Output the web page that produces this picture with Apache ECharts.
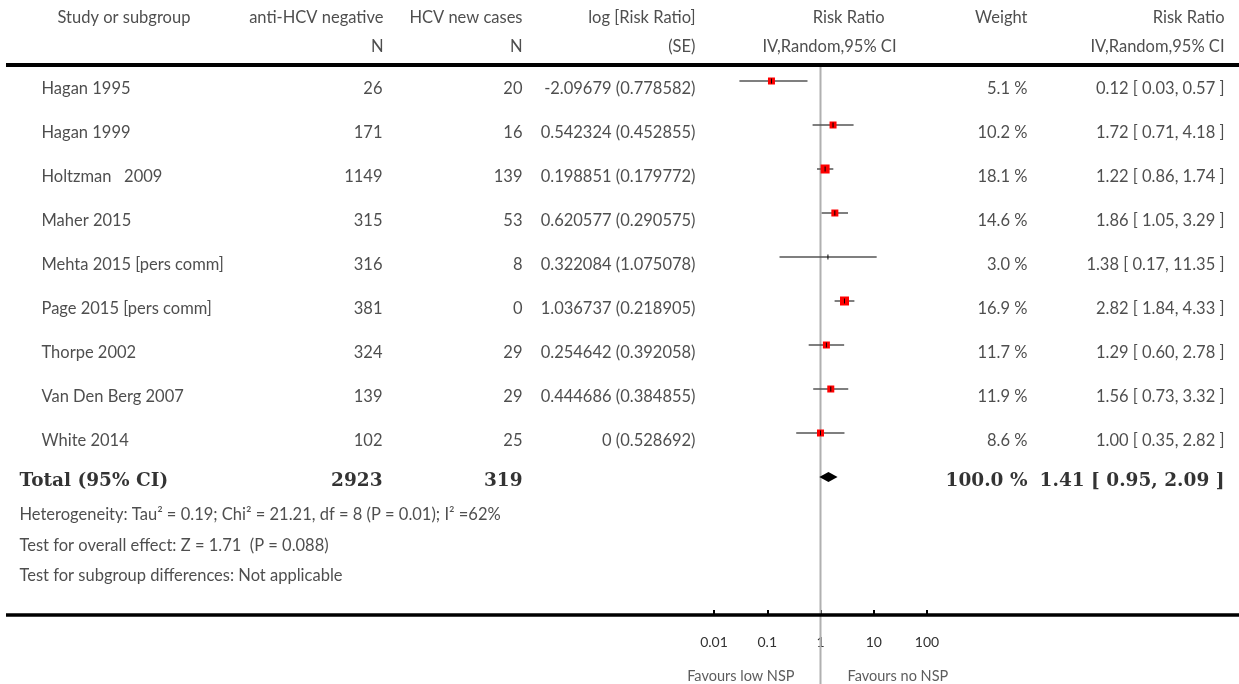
<!DOCTYPE html>
<html>
<head>
<meta charset="utf-8">
<script src="https://cdn.jsdelivr.net/npm/echarts@6/dist/echarts.min.js"></script>
<style>
html,body{margin:0;padding:0;background:#fff;}
#chart{width:1239px;height:684px;}
</style>
</head>
<body>
<div id="chart"></div>
<script>
// ---------- data ----------
const studies = ["Hagan 1995","Hagan 1999","Holtzman   2009","Maher 2015","Mehta 2015 [pers comm]","Page 2015 [pers comm]","Thorpe 2002","Van Den Berg 2007","White 2014"];
const antiNeg = [26,171,1149,315,316,381,324,139,102];
const newCases = [20,16,139,53,8,0,29,29,25];
const logRR = ["-2.09679","0.542324","0.198851","0.620577","0.322084","1.036737","0.254642","0.444686","0"];
const logSE = ["0.778582","0.452855","0.179772","0.290575","1.075078","0.218905","0.392058","0.384855","0.528692"];
const weights = [5.1,10.2,18.1,14.6,3.0,16.9,11.7,11.9,8.6];
const rr = [0.12,1.72,1.22,1.86,1.38,2.82,1.29,1.56,1.00];
const rrLo = [0.03,0.71,0.86,1.05,0.17,1.84,0.60,0.73,0.35];
const rrHi = [0.57,4.18,1.74,3.29,11.35,4.33,2.78,3.32,2.82];
const totalAnti = 2923;
const totalNew = 319;
const totalWeight = 100.0;
const totalRR = [1.41, 0.95, 2.09];
const tickValues = [0.01, 0.1, 1, 10, 100];
const headers1 = ["Study or subgroup","anti-HCV negative","HCV new cases","log [Risk Ratio]","Risk Ratio","Weight","Risk Ratio"];
const headers2 = ["","N","N","(SE)","IV,Random,95% CI","","IV,Random,95% CI"];
const statsLines = [
  "Heterogeneity: Tau\u00B2 = 0.19; Chi\u00B2 = 21.21, df = 8 (P = 0.01); I\u00B2 =62%",
  "Test for overall effect: Z = 1.71  (P = 0.088)",
  "Test for subgroup differences: Not applicable"
];
const favours = ["Favours low NSP","Favours no NSP"];

// ---------- layout ----------
const SANS = "Lato, 'Open Sans', sans-serif";
const SERIF = "'DejaVu Serif', 'Liberation Serif', serif";
const TXT = "#222";
const col = { nameHdr: 58, name: 42, anti: 384, anti2: 383, newc: 523, log: 696, rrHdr: 885, rrHdr2: 897, w: 1028, rr: 1225, total: 20, favL: 795, favR: 848 };
const rowH1 = -1.614, rowH2 = -0.955, rowTotal = 8.93, rowStats = [9.68, 10.39, 11.07], rowFav = 13.36;

const f2 = v => v.toFixed(2);
const ciText = (a,b,c) => `${f2(a)} [ ${f2(b)}, ${f2(c)} ]`;

function textSeries(items, opt) {
  return {
    type: 'scatter', xAxisIndex: 0, yAxisIndex: 0, silent: true,
    symbolSize: 1, itemStyle: { color: 'rgba(0,0,0,0)' },
    data: items.map(it => ({ value: [it[0], it[1]], name: it[2] })),
    label: {
      show: true, position: [0, 0], offset: [0, opt.dy === undefined ? 2 : opt.dy],
      align: opt.align, verticalAlign: 'middle',
      formatter: p => p.name,
      fontFamily: opt.font || SANS, fontSize: opt.size || 16.5,
      fontWeight: opt.weight || 'normal', color: opt.color || TXT
    },
    z: 5
  };
}

const leftItems = [[col.nameHdr, rowH1, headers1[0]]];
studies.forEach((s, i) => leftItems.push([col.name, i, s]));
statsLines.forEach((s, k) => leftItems.push([col.total, rowStats[k], s]));

const rightItems = [
  [col.anti, rowH1, headers1[1]], [col.anti, rowH2, headers2[1]],
  [col.newc, rowH1, headers1[2]], [col.newc, rowH2, headers2[2]],
  [col.log, rowH1, headers1[3]], [col.log, rowH2, headers2[3]],
  [col.rrHdr, rowH1, headers1[4]], [col.rrHdr2, rowH2, headers2[4]],
  [col.w, rowH1, headers1[5]],
  [col.rr, rowH1, headers1[6]], [col.rr, rowH2, headers2[6]]
];
studies.forEach((s, i) => {
  rightItems.push([col.anti2, i, String(antiNeg[i])]);
  rightItems.push([col.newc, i, String(newCases[i])]);
  rightItems.push([col.log, i, `${logRR[i]} (${logSE[i]})`]);
  rightItems.push([col.w, i, weights[i].toFixed(1) + ' %']);
  rightItems.push([col.rr, i, ciText(rr[i], rrLo[i], rrHi[i])]);
});

const boldRight = [
  [col.anti2, rowTotal, String(totalAnti)],
  [col.newc, rowTotal, String(totalNew)],
  [col.w, rowTotal, totalWeight.toFixed(1) + ' %'],
  [col.rr, rowTotal, ciText(totalRR[0], totalRR[1], totalRR[2])]
];
const boldLeft = [[col.total, rowTotal, "Total (95% CI)"]];

const forestData = studies.map((s, i) => [i, rr[i], rrLo[i], rrHi[i], weights[i]]);
const squareSize = w => (w < 4 ? 0 : (w < 16 ? 7 : 9));

const chart = echarts.init(document.getElementById('chart'), null, { renderer: 'canvas' });
chart.setOption({
  backgroundColor: '#fff',
  animation: false,
  grid: [
    { left: 6, right: 0, top: 0, bottom: 0 },
    { left: 714, width: 213, top: 0, bottom: 0 },
    { left: 714, width: 213, top: 590, bottom: 69 }
  ],
  xAxis: [
    { type: 'value', gridIndex: 0, min: 6, max: 1239, show: false },
    { type: 'log', gridIndex: 1, logBase: 10, min: 0.01, max: 100, show: false },
    { type: 'log', gridIndex: 2, logBase: 10, min: 0.01, max: 100, splitNumber: 4,
      position: 'bottom',
      axisLine: { show: false },
      axisTick: { show: true, inside: true, length: 5, lineStyle: { color: '#000', width: 2 } },
      axisLabel: { margin: 20, fontFamily: SANS, fontSize: 14, color: '#333',
        formatter: v => { const t = tickValues.find(x => Math.abs(Math.log10(x) - Math.log10(v)) < 1e-6); return t === undefined ? '' : String(t); } },
      splitLine: { show: false } }
  ],
  yAxis: [
    { type: 'value', gridIndex: 0, inverse: true, min: -87/44, max: 597/44, show: false },
    { type: 'value', gridIndex: 1, inverse: true, min: -81/44, max: 603/44, show: false },
    { type: 'value', gridIndex: 2, min: 0, max: 1, show: false }
  ],
  series: [
    {
      type: 'scatter', xAxisIndex: 0, yAxisIndex: 0, silent: true, symbolSize: 0, data: [],
      markLine: {
        silent: true, symbol: 'none', label: { show: false },
        data: [
          { yAxis: -0.5, lineStyle: { color: '#000', width: 4, type: 'solid' } },
          { yAxis: 12, lineStyle: { color: '#000', width: 3.5, type: 'solid' } }
        ]
      }
    },
    {
      type: 'line', xAxisIndex: 1, yAxisIndex: 1, silent: true, symbol: 'none', clip: false,
      lineStyle: { color: '#b0b0b0', width: 2 },
      data: [[1, -16/44], [1, 603/44]], z: 1
    },
    {
      type: 'custom', xAxisIndex: 1, yAxisIndex: 1, silent: true, z: 3,
      encode: { x: [1, 2, 3], y: 0 },
      data: forestData,
      renderItem: (params, api) => {
        const row = api.value(0);
        const p = api.coord([api.value(1), row]);
        const l = api.coord([api.value(2), row]);
        const h = api.coord([api.value(3), row]);
        const s = squareSize(api.value(4));
        const children = [
          { type: 'line', shape: { x1: l[0], y1: p[1], x2: h[0], y2: p[1] }, style: { stroke: '#555', lineWidth: 1.5 } }
        ];
        if (s > 0) children.push({ type: 'rect', shape: { x: p[0] - s/2, y: p[1] - s/2, width: s, height: s }, style: { fill: '#ff0000' } });
        children.push({ type: 'line', shape: { x1: p[0], y1: p[1] - 2.5, x2: p[0], y2: p[1] + 2.5 }, style: { stroke: '#000', lineWidth: 1 } });
        return { type: 'group', children };
      }
    },
    {
      type: 'custom', xAxisIndex: 1, yAxisIndex: 1, silent: true, z: 3,
      encode: { x: [1, 2, 3], y: 0 },
      data: [[9, totalRR[0], totalRR[1], totalRR[2]]],
      renderItem: (params, api) => {
        const row = api.value(0);
        const p = api.coord([api.value(1), row]);
        const l = api.coord([api.value(2), row]);
        const h = api.coord([api.value(3), row]);
        return { type: 'polygon', shape: { points: [[l[0], p[1]], [p[0], p[1] - 5], [h[0], p[1]], [p[0], p[1] + 5]] }, style: { fill: '#000' } };
      }
    },
    textSeries(leftItems, { align: 'left' }),
    textSeries(rightItems, { align: 'right' }),
    textSeries(boldLeft, { align: 'left', font: SERIF, size: 18.5, weight: 'bold', color: '#000' }),
    textSeries(boldRight, { align: 'right', font: SERIF, size: 18.5, weight: 'bold', color: '#000' }),
    textSeries([[col.favL, rowFav, favours[0]]], { align: 'right', size: 14.5, color: '#333' }),
    textSeries([[col.favR, rowFav, favours[1]]], { align: 'left', size: 14.5, color: '#333' })
  ]
});
</script>
</body>
</html>
